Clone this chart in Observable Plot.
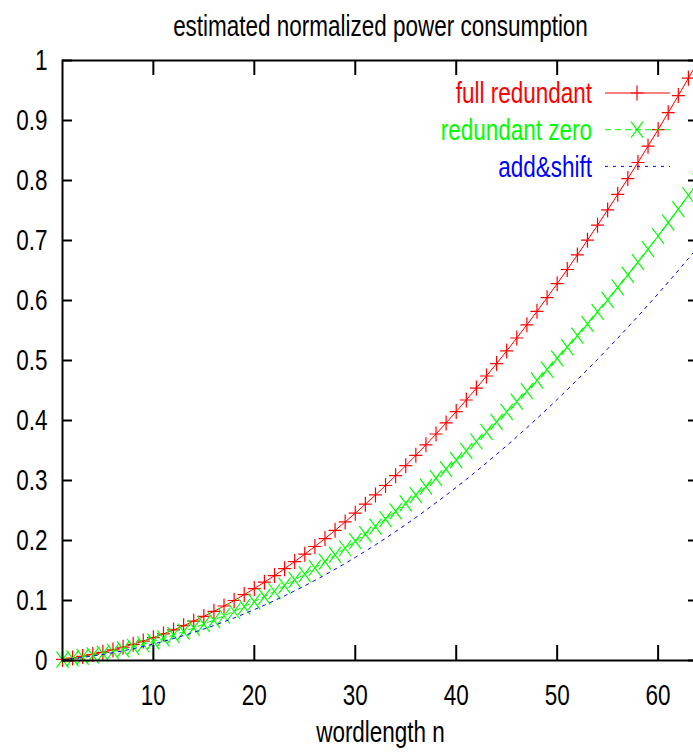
<!DOCTYPE html>
<html><head><meta charset="utf-8">
<script src="https://cdn.jsdelivr.net/npm/d3@7"></script>
<script src="https://cdn.jsdelivr.net/npm/@observablehq/plot@0.6"></script>
<style>
html,body{margin:0;padding:0;background:#fff;overflow:hidden;}
#chart svg{max-width:none !important;}
</style></head><body><div id="chart"></div>
<script>
const titleText = "estimated normalized power consumption";
const xLabelText = "wordlength n";
const seriesNames = ["full redundant", "redundant zero", "add&shift"];
const seriesColors = ["#ff0000", "#00ff00", "#0000ff"];

const wordlength = [1,2,3,4,5,6,7,8,9,10,11,12,13,14,15,16,17,18,19,20,21,22,23,24,25,26,27,28,29,30,31,32,
  33,34,35,36,37,38,39,40,41,42,43,44,45,46,47,48,49,50,51,52,53,54,55,56,57,58,59,60,61,62,63,64];

const fullRedundant = [0.0018,0.0041,0.0068,0.0100,0.0136,0.0176,0.0221,0.0270,0.0323,0.0381,0.0443,0.0509,
  0.0580,0.0656,0.0735,0.0819,0.0908,0.1000,0.1098,0.1199,0.1305,0.1415,0.1530,0.1649,0.1772,0.1900,0.2032,
  0.2169,0.2310,0.2455,0.2605,0.2759,0.2917,0.3080,0.3247,0.3419,0.3595,0.3775,0.3960,0.4149,0.4342,0.4540,
  0.4742,0.4949,0.5160,0.5375,0.5595,0.5819,0.6047,0.6280,0.6517,0.6759,0.7005,0.7255,0.7510,0.7769,0.8032,
  0.8300,0.8572,0.8849,0.9130,0.9415,0.9705,1.0000];

const redundantZero = [0.0016,0.0036,0.0059,0.0086,0.0116,0.0150,0.0187,0.0227,0.0271,0.0318,0.0369,0.0423,
  0.0481,0.0542,0.0606,0.0674,0.0746,0.0821,0.0899,0.0981,0.1066,0.1154,0.1247,0.1342,0.1441,0.1543,0.1649,
  0.1759,0.1871,0.1988,0.2107,0.2230,0.2357,0.2487,0.2620,0.2757,0.2897,0.3041,0.3188,0.3339,0.3493,0.3650,
  0.3811,0.3976,0.4144,0.4315,0.4490,0.4668,0.4849,0.5035,0.5223,0.5415,0.5610,0.5809,0.6012,0.6217,0.6426,
  0.6639,0.6855,0.7075,0.7298,0.7524,0.7754,0.7987];

const addShift = [0.0014,0.0031,0.0051,0.0074,0.0101,0.0130,0.0162,0.0197,0.0234,0.0275,0.0319,0.0366,
  0.0416,0.0469,0.0525,0.0583,0.0645,0.0710,0.0778,0.0848,0.0922,0.0998,0.1078,0.1161,0.1246,0.1335,0.1426,
  0.1521,0.1618,0.1718,0.1822,0.1928,0.2037,0.2150,0.2265,0.2383,0.2505,0.2629,0.2756,0.2886,0.3019,0.3155,
  0.3294,0.3436,0.3581,0.3729,0.3880,0.4034,0.4191,0.4351,0.4514,0.4680,0.4849,0.5020,0.5195,0.5373,0.5554,
  0.5737,0.5924,0.6113,0.6306,0.6502,0.6700,0.6902];

const xTicks = [10, 20, 30, 40, 50, 60];
const xTickLabels = ["10", "20", "30", "40", "50", "60"];
const yTicks = [0, 0.1, 0.2, 0.3, 0.4, 0.5, 0.6, 0.7, 0.8, 0.9, 1];
const yTickLabels = ["0", "0.1", "0.2", "0.3", "0.4", "0.5", "0.6", "0.7", "0.8", "0.9", "1"];

const rows = wordlength.map((n, i) => ({n, full: fullRedundant[i], zero: redundantZero[i], shift: addShift[i]}));

const FONT = '"Liberation Sans", Arial, Helvetica, sans-serif';
const FONT_SIZE = 29;
const SQUEEZE = 0.775; // condensed lettering as in the original

const plusSym = {draw(ctx) { const w = 6.5, h = 7.5; ctx.moveTo(-w, 0); ctx.lineTo(w, 0); ctx.moveTo(0, -h); ctx.lineTo(0, h); }};
const timesSym = {draw(ctx) { const w = 6, h = 8; ctx.moveTo(-w, -h); ctx.lineTo(w, h); ctx.moveTo(-w, h); ctx.lineTo(w, -h); }};

const W = 710, H = 753, ML = 62, MR = 12, MT = 60, MB = 93;
const frameW = W - ML - MR, frameH = H - MT - MB;

const plot = Plot.plot({
  width: W, height: H,
  marginLeft: ML, marginRight: MR, marginTop: MT, marginBottom: MB,
  style: {fontFamily: FONT, fontSize: FONT_SIZE + "px", color: "black", background: "white", overflow: "visible", maxWidth: "none"},
  x: {domain: [1, 64], ticks: xTicks, tickSize: 0, tickPadding: 24, label: null,
      tickFormat: d => xTickLabels[xTicks.indexOf(d)]},
  y: {domain: [0, 1], ticks: yTicks, tickSize: 0, tickPadding: 15, label: null,
      tickFormat: d => yTickLabels[yTicks.indexOf(d)]},
  marks: [
    Plot.line(rows, {x: "n", y: "full", stroke: seriesColors[0], strokeWidth: 1}),
    Plot.dot(rows, {x: "n", y: "full", symbol: plusSym, r: 1, stroke: seriesColors[0], fill: "none", strokeWidth: 1.2}),
    Plot.line(rows, {x: "n", y: "zero", stroke: seriesColors[1], strokeWidth: 1, strokeDasharray: "6,4"}),
    Plot.dot(rows, {x: "n", y: "zero", symbol: timesSym, r: 1, stroke: seriesColors[1], fill: "none", strokeWidth: 1.2}),
    Plot.line(rows, {x: "n", y: "shift", stroke: seriesColors[2], strokeWidth: 1, strokeDasharray: "3,5"}),
    Plot.frame({stroke: "black", strokeWidth: 2}),
    Plot.tickX(xTicks, {x: d => d, insetTop: frameH - 15, stroke: "black", strokeWidth: 2}),
    Plot.tickX(xTicks, {x: d => d, insetBottom: frameH - 15, stroke: "black", strokeWidth: 2}),
    Plot.tickY(yTicks, {y: d => d, insetRight: frameW - 10, stroke: "black", strokeWidth: 2}),
    Plot.tickY(yTicks, {y: d => d, insetLeft: frameW - 10, stroke: "black", strokeWidth: 2}),
    Plot.text([titleText], {text: d => d, frameAnchor: "top", lineAnchor: "middle", dy: -34, fill: "black"}),
    Plot.text([xLabelText], {text: d => d, frameAnchor: "bottom", lineAnchor: "middle", dy: 72, fill: "black"})
  ]
});
plot.style.maxWidth = "none";
document.getElementById("chart").appendChild(plot);

// gnuplot-style key in the upper right
const svgSel = d3.select(plot);
const frameRight = plot.scale("x").range[1];
const frameTop = Math.min(...plot.scale("y").range);
const key = svgSel.append("g").attr("font-family", FONT).attr("font-size", FONT_SIZE);
const keySymbols = [plusSym, timesSym, null];
const keyDashes = [null, "6,4", "3,5"];
seriesNames.forEach((name, i) => {
  const cy = frameTop + 33 + i * 36.7;
  key.append("text").attr("x", frameRight - 106).attr("y", cy).attr("dy", "0.35em")
    .attr("text-anchor", "end").attr("fill", seriesColors[i]).text(name);
  key.append("line").attr("x1", frameRight - 93).attr("x2", frameRight - 28).attr("y1", cy).attr("y2", cy)
    .attr("stroke", seriesColors[i]).attr("stroke-width", 1).attr("stroke-dasharray", keyDashes[i]);
  if (keySymbols[i]) {
    key.append("path").attr("transform", `translate(${frameRight - 61},${cy})`)
      .attr("d", d3.symbol(keySymbols[i])()).attr("fill", "none")
      .attr("stroke", seriesColors[i]).attr("stroke-width", 1.2);
  }
});

// condense every label horizontally
plot.querySelectorAll("text").forEach(t => {
  const len = t.getComputedTextLength();
  if (len > 0) {
    t.setAttribute("textLength", (len * SQUEEZE).toFixed(2));
    t.setAttribute("lengthAdjust", "spacingAndGlyphs");
  }
});
</script></body></html>
